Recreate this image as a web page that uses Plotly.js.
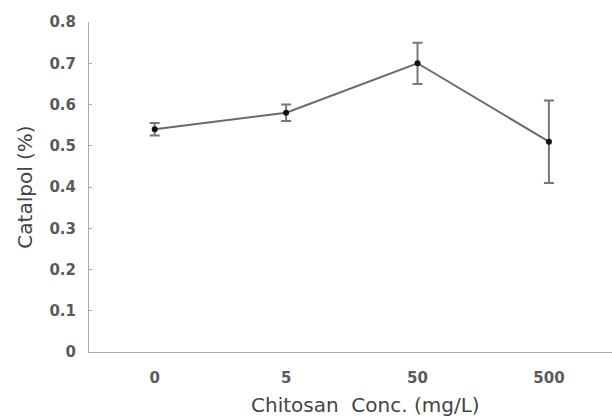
<!DOCTYPE html>
<html><head><meta charset="utf-8">
<script src="https://cdn.plot.ly/plotly-3.0.1.min.js"></script>
<style>body{margin:0;background:#fff}#c{width:612px;height:416px}</style>
</head><body><div id="c"></div>
<script>
var categories = ["0", "5", "50", "500"];
var catalpol = [0.54, 0.58, 0.70, 0.51];
var errors = [0.015, 0.02, 0.05, 0.10];
var yTickVals = [0, 0.1, 0.2, 0.3, 0.4, 0.5, 0.6, 0.7, 0.8];
var yTickText = ["0", "0.1", "0.2", "0.3", "0.4", "0.5", "0.6", "0.7", "0.8"];
var xTitle = "Chitosan  Conc. (mg/L)";
var yTitle = "Catalpol (%)";

var trace = {
  x: categories, y: catalpol, type: "scatter", mode: "lines+markers",
  line: {color: "#6a6a6a", width: 2},
  marker: {color: "#111", size: 6},
  error_y: {type: "data", array: errors, visible: true, color: "#777", thickness: 2, width: 5}
};
var layout = {
  width: 612, height: 416,
  margin: {l: 89, r: 0, t: 22, b: 64},
  paper_bgcolor: "#fff", plot_bgcolor: "#fff",
  showlegend: false,
  font: {family: "DejaVu Sans, sans-serif", color: "#444"},
  xaxis: {
    type: "category", range: [-0.5, 3.48],
    showline: true, linecolor: "#aaa", linewidth: 1, showgrid: false, zeroline: false,
    ticks: "", ticklabelstandoff: 12,
    tickfont: {size: 15, color: "#5a5a5a", weight: "bold"}
  },
  yaxis: {
    range: [0, 0.8], tickvals: yTickVals, ticktext: yTickText,
    showline: true, linecolor: "#aaa", linewidth: 1, showgrid: false, zeroline: false,
    ticks: "inside", ticklen: 3, tickcolor: "#aaa", ticklabelstandoff: 9,
    tickfont: {size: 15, color: "#5a5a5a", weight: "bold"},
    title: {text: yTitle, font: {size: 20, color: "#444"}, standoff: 11}
  },
  annotations: [{
    text: xTitle, xref: "paper", yref: "paper", x: 0.528, y: 0,
    xanchor: "center", yanchor: "middle", yshift: -53, showarrow: false,
    font: {size: 20, color: "#444"}
  }]
};
Plotly.newPlot("c", [trace], layout, {staticPlot: true});
</script></body></html>
